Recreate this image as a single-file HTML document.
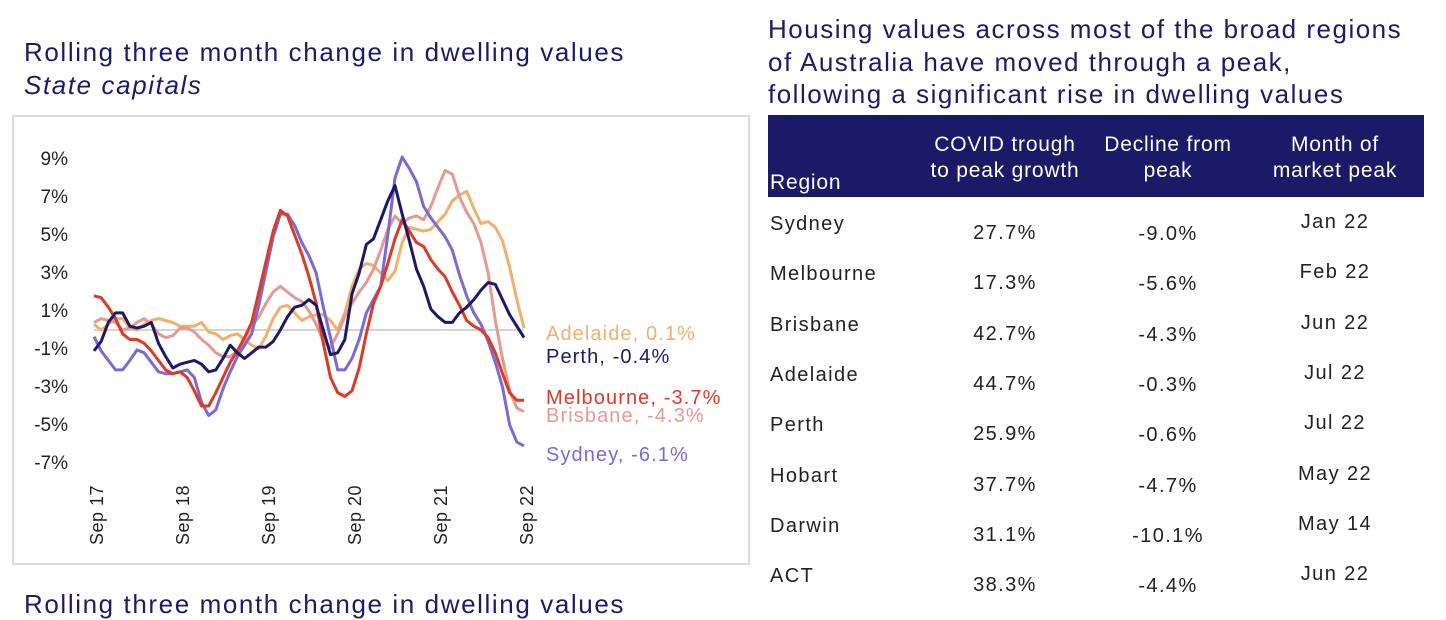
<!DOCTYPE html>
<html><head><meta charset="utf-8">
<style>
body{margin:0;width:1446px;height:598px;overflow:hidden;background:#fff;font-family:"Liberation Sans",sans-serif;color:#1c1a6b;position:relative}
.abs{position:absolute;white-space:nowrap}
.t{font-size:26px;letter-spacing:1.6px;color:#1c1a6b}
.hdr{position:absolute;left:768px;top:115px;width:656px;height:82px;background:#1b1a69}
.h{position:absolute;color:#fff;font-size:21px;letter-spacing:0.8px;text-align:center;line-height:26px}
.cell{position:absolute;font-size:20px;letter-spacing:1.4px;color:#222;white-space:nowrap}
</style></head><body>
<div class="abs t" style="left:24px;top:37px">Rolling three month change in dwelling values</div>
<div class="abs t" style="left:24px;top:70px;font-style:italic">State capitals</div>
<div style="position:absolute;left:12px;top:115px;width:738px;height:450px;border:2px solid #dcdcdf;box-sizing:border-box"></div>
<svg id="chart" width="760" height="570" style="position:absolute;left:0;top:0"></svg>
<div class="abs t" style="left:24px;top:589px">Rolling three month change in dwelling values</div>

<div class="abs t" style="left:768px;top:13px;line-height:32.5px;font-size:26px;letter-spacing:1.5px">Housing values across most of the broad regions<br>of Australia have moved through a peak,<br>following a significant rise in dwelling values</div>
<div class="hdr"></div>
<div class="h" style="left:770px;top:170px;text-align:left">Region</div>
<div class="h" style="left:905px;top:132px;width:200px">COVID trough<br>to peak growth</div>
<div class="h" style="left:1068px;top:132px;width:200px">Decline from<br>peak</div>
<div class="h" style="left:1235px;top:132px;width:200px">Month of<br>market peak</div>
<div id="rows"></div>
<script>
const regions=["Sydney","Melbourne","Brisbane","Adelaide","Perth","Hobart","Darwin","ACT"];
const growth=["27.7%","17.3%","42.7%","44.7%","25.9%","37.7%","31.1%","38.3%"];
const decline=["-9.0%","-5.6%","-4.3%","-0.3%","-0.6%","-4.7%","-10.1%","-4.4%"];
const peakMonth=["Jan 22","Feb 22","Jun 22","Jul 22","Jul 22","May 22","May 14","Jun 22"];
const rows=document.getElementById('rows');
regions.forEach((r,i)=>{
  const y=213+i*50.3;
  const mk=(txt,l,t,w,name)=>{const d=document.createElement('div');d.className='cell';d.style.left=l+'px';d.style.top=t+'px';if(w){d.style.width=w+'px';d.style.textAlign='center';}d.textContent=txt;
  
  
  rows.appendChild(d);};
  mk(r,770,y,0,'region-name');
  mk(growth[i],905,y+9,200,'growth-value');
  mk(decline[i],1068,y+10,200,'decline-value');
  mk(peakMonth[i],1235,y-2,200,'peak-month-value');
});

const sydney=[-0.35,-1.1,-1.6,-2.1,-2.1,-1.6,-1.05,-1.2,-1.7,-2.2,-2.3,-2.3,-2.2,-2.1,-2.5,-3.8,-4.5,-4.2,-3.1,-2.2,-1.4,-0.8,-0.2,1.3,3.1,4.9,6.1,6.1,5.5,4.6,3.9,3.0,1.2,-0.4,-2.1,-2.1,-1.5,-0.5,0.9,1.6,2.3,5.0,8.0,9.1,8.5,7.8,6.5,5.9,5.4,4.9,4.2,2.9,1.8,0.9,0.3,-0.6,-1.7,-3.0,-5.0,-5.9,-6.1];
const melbourne=[1.8,1.7,1.2,0.6,-0.2,-0.5,-0.5,-0.7,-1.1,-1.6,-2.1,-2.3,-2.2,-2.5,-3.2,-4.0,-4.0,-3.3,-2.5,-1.7,-1.1,-0.4,0.4,2.0,3.6,5.2,6.3,6.0,5.0,4.0,2.8,1.4,-0.7,-2.5,-3.3,-3.5,-3.2,-2.0,-0.2,1.4,2.3,3.5,4.8,5.8,5.2,4.6,4.4,3.7,3.2,2.8,2.0,1.3,0.5,0.2,0.0,-0.4,-1.2,-2.3,-3.3,-3.7,-3.7];
const brisbane=[0.4,0.6,0.5,0.4,0.0,0.1,0.4,0.6,0.3,-0.2,-0.4,-0.3,0.1,0.1,-0.1,-0.5,-0.8,-1.2,-1.4,-1.4,-1.1,-0.5,0.2,0.7,1.4,2.0,2.3,2.0,1.7,1.5,1.0,0.3,-0.6,-0.9,-0.2,0.7,1.4,2.0,2.5,3.2,4.2,5.3,6.0,5.6,5.9,6.0,5.8,6.5,7.5,8.4,8.2,7.0,6.2,5.6,4.6,3.0,0.5,-1.5,-3.2,-4.1,-4.3];
const adelaide=[0.3,0.0,0.3,0.6,0.6,0.1,0.0,0.3,0.5,0.6,0.5,0.4,0.2,0.2,0.2,0.4,-0.1,-0.2,-0.5,-0.3,-0.2,-0.5,-0.8,-1.0,-0.3,0.6,1.2,1.3,0.9,0.5,0.7,0.8,0.8,0.5,0.0,0.9,2.3,3.2,3.5,3.4,3.0,2.6,3.1,4.6,5.4,5.3,5.2,5.3,5.7,6.1,6.8,7.1,7.3,6.4,5.6,5.7,5.4,4.7,3.3,1.6,0.1];
const perth=[-1.1,-0.6,0.4,0.9,0.9,0.2,0.1,0.2,0.4,-0.7,-1.4,-2.0,-1.8,-1.7,-1.6,-1.8,-2.2,-2.1,-1.5,-0.8,-1.2,-1.5,-1.2,-0.9,-0.9,-0.6,0.0,0.7,1.2,1.3,1.6,1.3,0.0,-1.3,-1.2,-0.5,1.9,3.0,4.5,4.8,5.8,6.8,7.6,6.1,4.7,3.2,2.3,1.1,0.7,0.4,0.4,0.9,1.2,1.6,2.1,2.5,2.4,1.6,0.8,0.2,-0.4];
const yTicks=[9,7,5,3,1,-1,-3,-5,-7];
const xLabels=["Sep 17","Sep 18","Sep 19","Sep 20","Sep 21","Sep 22"];
const seriesNames=["Adelaide","Perth","Melbourne","Brisbane","Sydney"];
const lastVals=["0.1%","-0.4%","-3.7%","-4.3%","-6.1%"];

const NS='http://www.w3.org/2000/svg';
const svg=document.getElementById('chart');
const x=i=>94+i*(430/60);
const y=v=>330-v*19;
function el(tag,attrs){const e=document.createElementNS(NS,tag);for(const k in attrs)e.setAttribute(k,attrs[k]);svg.appendChild(e);return e;}
const zl=el('line',{x1:94,x2:524,y1:y(0),y2:y(0),stroke:'#d4d4d4','stroke-width':2});


yTicks.forEach(t=>{const e=el('text',{x:68,y:y(t)+6,'text-anchor':'end','font-size':19,fill:'#222','font-family':'Liberation Sans'});e.textContent=t+'%';

});
xLabels.forEach((l,k)=>{const px=x(k*12)+9;const e=el('text',{x:0,y:0,transform:`translate(${px},545) rotate(-90)`,'font-size':18,'letter-spacing':0.5,fill:'#222','font-family':'Liberation Sans'});e.textContent=l;

});
const series=[[adelaide,'#f2b06b'],[brisbane,'#e59a90'],[sydney,'#7d68d6'],[melbourne,'#de3a24'],[perth,'#1b1a69']];
const sn=['adelaide-line','brisbane-line','sydney-line','melbourne-line','perth-line'];
series.forEach(([d,c],k)=>{const p=el('polyline',{points:d.map((v,i)=>x(i)+','+y(v)).join(' '),fill:'none',stroke:c,'stroke-width':3,'stroke-linejoin':'round'});

});
const labCol=['#f2b06b','#1b1a69','#de3a24','#e59a90','#7d68d6'];
const labY=[340,363,404,422,461];
seriesNames.forEach((n,k)=>{const e=el('text',{x:546,y:labY[k],'font-size':20,'letter-spacing':1.1,fill:labCol[k],'font-family':'Liberation Sans'});e.textContent=n+', '+lastVals[k];

});
</script>
</body></html>
